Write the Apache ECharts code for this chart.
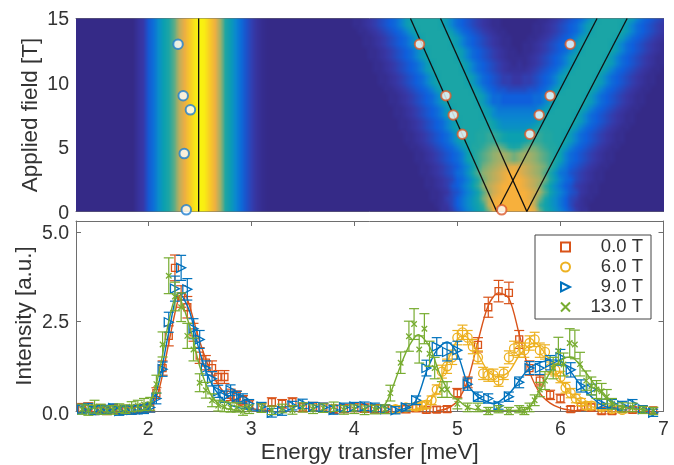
<!DOCTYPE html>
<html><head><meta charset="utf-8">
<style>html,body{margin:0;padding:0;background:#fff}#c{width:674px;height:465px;filter:blur(.4px)}</style>
<script src="https://cdn.jsdelivr.net/npm/echarts@6/dist/echarts.min.js"></script>
</head><body><div id="c"></div>
<script>
// ---------- tick labels ----------
const energyTicks=[2,3,4,5,6,7];
const fieldTicks=[0,5,10,15];
const intensityTicks=[0,2.5,5];
const seriesNames=['0.0 T','6.0 T','9.0 T','13.0 T'];
const seriesColors=['#d95319','#edb120','#0072bd','#77ac30'];
const colormap=['#352a87','#3838a8','#0f5fdc','#0a88d0','#0ba0b0','#25a89f','#8fb070','#d8ac50','#f7b03c','#f9d420','#f9f50f'];

// ---------- colour map: left band profile, energy 1.30 to 3.45 in 0.05 steps ----------
const bandProfile=[0,0,0,0,0,0,0,0,0,0,0,0,.06,.1,.18,.24,.32,.4,.47,.55,.66,.76,.86,.95,1,.97,.87,.77,.62,.48,.38,.3,.23,.17,.12,.07,.03,.01,0,0,0,0,0,0];
// V shaped part: energy 3.50 to 7.00 in 0.05 steps, one digit (base 36, /35) per cell; fields 15 T down to 0 T in 0.5 T steps
const vRows=[
"0000000000112345678adfgggggfda8765432110000000112345678adfgggggfda87654",
"0000000000112345678adfgggggfda876543211000000112345678adfgggggfda876543",
"00000000000112345678adfgggggfda87654321100000112345678adfgggggfda876543",
"000000000000112345678adfgggggfda876543211000112345678adfgggggfda8765432",
"000000000000112345678adfgggggfda87654321100112345678adfgggggfda87654321",
"0000000000000112345678adfgggggfda8765432110112345678adfgggggfda87654321",
"0000000000000112345678adfgggggfda876543211112345678adfgggggfda876543211",
"00000000000000112345678adfgggggfda87654321212345678adfgggggfda876543211",
"00000000000000112345678adfgggggfda8765432222345678adfgggggfda8765432110",
"000000000000000112345678adfgggggfda87654433445678adfgggggfda87654321100",
"000000000000000112345678adfgggggfda87654433445678adfgggggfda87654321100",
"0000000000000000112345678adfgggggfda876655556678adfgggggfda876543211000",
"00000000000000000112345678adfgggggfda8877777788adfgggggfda8765432110000",
"00000000000000000112345678adfgggggfda8877777788adfgggggfda8765432110000",
"000000000000000000112345678adfgggggfdb99999999bdfgggggfda87654321100000",
"000000000000000000112345678adfgggggfebaaaaaaabefgggggfda876543211000000",
"0000000000000000000112345678adfggggggecbbbbbbceggggggfda876543211000000",
"0000000000000000000112345678adfgggghgfdcccccdfghggggfda8765432110000000",
"00000000000000000000112345678adfgghhiihfeeefhiihhggfda87654321100000000",
"00000000000000000000112345678adfgghhiihfeeefhiihhggfda87654321100000000",
"000000000000000000000112345678adfhhijkkjhghjkkjihhfda876543211000000000",
"0000000000000000000000112345678aegijklmmlklmmlkjigea8765432110000000000",
"0000000000000000000000112345678aegijklmmlklmmlkjigea8765432110000000000",
"00000000000000000000000112345679bfiklmnopqponmlkifb97654321100000000000",
"00000000000000000000000112345689cgjlmnoqssqonmljgc986543211000000000000",
"00000000000000000000000011234578adhkmnoqsssqonmkhda87543211000000000000",
"00000000000000000000000011234679beilnoqssssqonlieb976432110000000000000",
"00000000000000000000000001123568acfjmoqsssssqomjfca86532110000000000000",
"00000000000000000000000001124579bdgknqssssssqnkgdb975421100000000000000",
"00000000000000000000000000123579bdfinssssssssnifdb975321000000000000000",
"00000000000000000000000000022468acegkqsssssssqkgeca86422000000000000000"
];
const gridEnergyStart=1.3, gridEnergyStep=0.05, gridFieldStep=0.5;

// ---------- fitted positions over the map ----------
const guideEnergyBottom=[2.49,5.382,5.674,5.382,5.674];
const guideEnergyTop=[2.49,4.545,4.837,6.355,6.647];
const circlesBlue=[[2.29,13],[2.34,9],[2.41,7.9],[2.35,4.5],[2.37,.13]];
const circlesRed=[[4.633,13],[4.889,9],[4.96,7.5],[5.048,6],[5.43,.13],[6.095,13],[5.9,9],[5.794,7.5],[5.703,6]];

// ---------- measured spectra ----------
const lowE=[1.36,1.42,1.48,1.54,1.6,1.66,1.72,1.78,1.84,1.9,1.96,2.02,2.08,2.14,2.2,2.26,2.32,2.38,2.44,2.5,2.56,2.62,2.68,2.74,2.8,2.86,2.92,2.98,3.1,3.2,3.3,3.4,3.5,3.6,3.7,3.8,3.9,4,4.1,4.2,4.3];
const stepE=[4.4,4.5,4.6,4.7,4.8,4.9,5,5.1,5.2,5.3,5.4,5.5,5.6,5.7,5.8,5.9,6,6.1,6.2,6.3,6.4,6.5,6.6,6.7,6.8,6.9];
const y0=[.08,.1,.03,.05,.02,.06,.02,.04,.03,.05,.07,.1,.5,1.2,2.1,4,3.2,2.9,2.2,1.55,1.35,1.2,.95,.95,.45,.42,.3,.18,.1,.25,.2,.25,.1,.12,.1,.05,.07,.1,.08,.06,.05,
 .05,.05,.08,.03,.04,.05,.5,.8,1.85,2.9,3.35,3.3,2,1.2,.85,.45,.35,.05,.12,.1,0,0,.05,.03,.05,.02];
const e0=[.13,.13,.13,.13,.12,.12,.12,.12,.12,.12,.12,.13,.15,.2,.28,.36,.3,.3,.25,.22,.2,.2,.18,.18,.16,.14,.13,.12,.12,.12,.12,.12,.12,.12,.12,.12,.12,.12,.12,.12,.12,
 .1,.1,.1,.08,.08,.08,.13,.15,.2,.28,.3,.3,.25,.2,.15,.13,.12,.08,.1,.1,.08,.08,.08,.08,.08,.08];
const e6x=[4.4,4.5,4.6,4.65,4.7,4.75,4.8,4.85,4.9,4.95,5,5.05,5.1,5.15,5.2,5.25,5.3,5.35,5.4,5.45,5.5,5.55,5.6,5.65,5.7,5.75,5.8,5.85,5.9,5.95,6,6.05,6.1,6.15,6.2,6.25,6.3,6.4,6.5,6.6];
const y6=[.05,.1,.12,.15,.18,.3,.6,1.1,1.25,1.5,2.05,2.2,2.05,1.8,1.5,1.05,1,1,.85,1.05,1.5,1.75,1.7,1.7,1.9,2,1.7,1.65,1.2,1.15,.95,.65,.5,.35,.25,.15,.15,.1,.05,.03];
const e6=[.1,.1,.1,.1,.1,.12,.13,.18,.2,.2,.2,.2,.2,.2,.18,.17,.17,.17,.16,.17,.18,.2,.2,.2,.2,.2,.2,.2,.17,.17,.16,.15,.13,.12,.1,.1,.1,.08,.08,.08];
const y9=[.05,.08,.02,.03,.04,.08,0,.03,.03,.04,.05,.1,.35,1.17,2.48,3.42,4,3.4,2.3,2,1.2,.9,.55,.4,.58,.4,.35,.2,.12,-.05,0,.15,.2,.12,.1,.03,.1,.12,.13,.1,.05,
 .02,.1,.3,1.2,1.8,1.65,1.7,.75,.4,.35,.15,.4,.8,1.2,1.2,1.35,1.5,1.15,.7,.6,.2,.2,.15,.2,.05,-.05];
const e9=[.13,.13,.12,.12,.12,.12,.12,.12,.12,.12,.12,.13,.15,.2,.28,.35,.35,.3,.28,.25,.2,.2,.17,.16,.15,.15,.13,.12,.12,.12,.12,.12,.13,.12,.12,.12,.12,.12,.12,.12,.12,
 .1,.1,.12,.22,.25,.25,.25,.17,.13,.13,.1,.13,.15,.18,.18,.2,.22,.2,.17,.15,.13,.12,.12,.12,.1,.1];
const e13x=[4.35,4.45,4.53,4.58,4.63,4.68,4.73,4.78,4.85,4.9,5,5.1,5.2,5.3,5.4,5.5,5.6,5.65,5.7,5.75,5.8,5.85,5.93,5.98,6.03,6.09,6.14,6.19,6.25,6.3,6.35,6.4,6.45,6.5,6.6,6.7,6.8,6.9];
const y13=[.05,.02,.12,.05,.02,.03,.08,.05,.12,.15,.18,.2,.75,1.86,3.78,3.2,2.9,2.1,1.72,.79,.58,.3,.15,.12,.1,.1,0,.05,.08,.02,.07,.03,.1,.05,.08,.12,.03,.05,.02,.04,.05,
 .5,1.35,2.09,2.43,1.72,2.3,1.6,1.2,.6,.6,.2,.1,.1,0,.05,0,.05,0,.1,.3,.6,.85,1.2,1.68,1.3,1.9,1.86,1.31,.85,.7,.6,.55,.4,.2,.1,.1,.03,0];
const e13=[.14,.14,.18,.14,.12,.12,.12,.12,.14,.15,.17,.18,.25,.35,.5,.4,.4,.35,.32,.25,.22,.18,.15,.14,.13,.13,.12,.12,.12,.12,.12,.12,.13,.12,.12,.13,.12,.12,.12,.12,.12,
 .22,.3,.42,.43,.38,.42,.35,.3,.22,.22,.14,.12,.12,.1,.1,.1,.1,.1,.12,.15,.2,.25,.3,.38,.32,.4,.4,.33,.27,.25,.25,.22,.2,.15,.13,.12,.1,.1];

// ---------- fitted curves ----------
const fit0E=[1.9,2,2.1,2.2,2.3,2.35,2.4,2.5,2.6,2.7,2.8,2.9,3,3.1,3.2,null,4.8,4.9,5,5.1,5.2,5.3,5.4,5.5,5.6,5.7,5.8,5.9,6,6.1,6.2];
const fit0Y=[0,.05,.55,1.9,3.2,3.3,2.95,1.95,1.15,.65,.32,.15,.07,.03,.01,null,.01,.07,.28,.85,1.95,2.95,3.3,3.15,2.15,1.1,.5,.22,.08,.02,0];
const fit6E=[4.5,4.6,4.7,4.8,4.9,5,5.05,5.1,5.2,5.3,5.4,5.5,5.6,5.7,5.75,5.8,5.9,6,6.1,6.2,6.3,6.4,6.5];
const fit6Y=[.02,.06,.18,.58,1.35,2,2.1,2.05,1.6,1.1,.95,1.1,1.55,1.85,1.9,1.8,1.4,.85,.48,.25,.12,.05,.02];
const fit9E=[1.9,2,2.1,2.2,2.3,2.4,2.5,2.6,2.7,2.8,2.9,3,3.1,null,4.4,4.5,4.6,4.7,4.8,4.9,5,5.1,5.2,5.3,5.35,5.5,5.6,5.7,5.8,5.9,6,6.1,6.2,6.3,6.4,6.5,6.6];
const fit9Y=[0,.05,.75,2.2,3.3,2.8,1.65,.85,.4,.17,.08,.03,.01,null,.02,.08,.3,1.1,1.7,1.93,1.6,.76,.39,.25,.2,.48,.85,1.2,1.35,1.43,1.4,1.1,.7,.4,.17,.07,.02];
const fit13E=[1.9,2,2.1,2.2,2.28,2.4,2.5,2.6,2.7,2.8,2.9,null,4.2,4.3,4.35,4.46,4.54,4.62,4.73,4.83,4.93,5.03,5.1,5.2,5.3,5.6,5.7,5.8,5.93,6.06,6.1,6.23,6.35,6.45,6.55,6.7,6.85];
const fit13Y=[0,.12,1,2.5,3.25,2.4,1.25,.5,.15,.04,.01,null,.01,.2,.49,1.35,1.86,2.13,1.8,1.03,.49,.25,.1,.03,.01,.02,.12,.58,1.2,1.5,1.51,1.13,.67,.35,.16,.07,.02];

// ---------- assembling ----------
const zipXY=(xs,ys)=>xs.map((x,i)=>[x,ys[i]]);
const fieldMap=[];
const colCount=bandProfile.length+vRows[0].length;
const mapCanvas=document.createElement('canvas');
mapCanvas.width=colCount;mapCanvas.height=vRows.length;
const mapCtx=mapCanvas.getContext('2d');
vRows.forEach((row,r)=>{
  const field=15-r*gridFieldStep;
  const vals=bandProfile.concat(row.split('').map(ch=>parseInt(ch,36)/35));
  vals.forEach((v,i)=>{
    fieldMap.push([gridEnergyStart+i*gridEnergyStep,field,v]);
    mapCtx.fillStyle=echarts.color.lerp(v,colormap);
    mapCtx.fillRect(i,r,1,1);
  });
});
const spectra=[
 {x:lowE.concat(stepE),y:y0,e:e0,fx:fit0E,fy:fit0Y,symbol:'rect',size:7},
 {x:e6x,y:y6,e:e6,fx:fit6E,fy:fit6Y,symbol:'circle',size:9},
 {x:lowE.concat(stepE),y:y9,e:e9,fx:fit9E,fy:fit9Y,symbol:'path://M0 0L10 5L0 10Z',size:9},
 {x:lowE.concat(e13x),y:y13,e:e13,fx:fit13E,fy:fit13Y,symbol:'path://M0 0L10 10M10 0L0 10',size:5.5}
];
const textColor='#333', frame='#6e6e6e', FONT='"Liberation Sans",Arial,sans-serif';
const chart=echarts.init(document.getElementById('c'),null,{renderer:'canvas'});
const G0=0,G1=1;
const base={min:1.3,max:7,type:'value',splitLine:{show:false}};
const lineStyle={color:frame,width:1};
const tickRich={
  a:{padding:[3,0,0,0],fontSize:19.5,fontFamily:FONT,color:textColor},
  b:{padding:[4,0,0,0],fontSize:19.5,fontFamily:FONT,color:textColor},
  c:{padding:[8,0,0,0],fontSize:19.5,fontFamily:FONT,color:textColor}
};
function xAx(grid,pos,labels){return Object.assign({},base,{gridIndex:grid,position:pos,
  axisLine:{show:true,onZero:false,lineStyle},
  axisTick:{show:grid===G1,inside:true,length:5,lineStyle,customValues:energyTicks},
  axisLabel:{show:labels,customValues:energyTicks,color:textColor,fontSize:19.5,fontFamily:FONT,margin:9,formatter:v=>String(v),hideOverlap:false,showMinLabel:true,showMaxLabel:true},
  name:labels?'Energy transfer [meV]':'',nameLocation:'middle',nameGap:31,nameMoveOverlap:false,
  nameTextStyle:{color:textColor,fontSize:22.4,fontFamily:FONT}});}
function yAx(grid,pos,labels,min,max,ticks,fmt,name,gap){return {type:'value',gridIndex:grid,position:pos,min,max,splitLine:{show:false},
  axisLine:{show:true,onZero:false,lineStyle},
  axisTick:{show:grid===G1,inside:true,length:5,lineStyle,customValues:ticks},
  axisLabel:{show:labels,customValues:ticks,color:textColor,fontSize:19.5,fontFamily:FONT,margin:7,formatter:fmt,rich:tickRich},
  name:labels?name:'',nameLocation:'middle',nameRotate:90,nameGap:gap,nameMoveOverlap:false,
  nameTextStyle:{color:textColor,fontSize:22.4,fontFamily:FONT}};}

const series=[];
series.push({type:'custom',name:'map',xAxisIndex:0,yAxisIndex:0,data:fieldMap,encode:{x:0,y:1},silent:true,animation:false,progressive:0,clip:true,z:1,
  renderItem(params,api){
    if(params.dataIndex!==0)return null;
    const a=api.coord([gridEnergyStart-gridEnergyStep/2,15+gridFieldStep/2]);
    const b=api.coord([gridEnergyStart+(colCount-0.5)*gridEnergyStep,-gridFieldStep/2]);
    return {type:'image',style:{image:mapCanvas,x:a[0],y:a[1],width:b[0]-a[0],height:b[1]-a[1]}};
  }});
guideEnergyBottom.forEach((e,i)=>series.push({type:'line',xAxisIndex:0,yAxisIndex:0,symbol:'none',silent:true,animation:false,z:5,
  data:[[e,0],[guideEnergyTop[i],15]],lineStyle:{color:'#111',width:1.3}}));
[[circlesBlue,'#1f7fd0'],[circlesRed,'#dc5a2a']].forEach(([d,c])=>series.push({type:'scatter',xAxisIndex:0,yAxisIndex:0,data:d,symbol:'circle',symbolSize:9.5,clip:false,silent:true,animation:false,z:6,
  itemStyle:{color:'#fff',borderColor:c,borderWidth:2}}));

spectra.forEach((s,i)=>{
  const c=seriesColors[i];
  series.push({type:'line',xAxisIndex:1,yAxisIndex:2,data:zipXY(s.fx,s.fy).map(p=>p[0]===null?[null,null]:p),symbol:'none',smooth:0.3,connectNulls:false,silent:true,animation:false,clip:false,lineStyle:{color:c,width:1.4},z:10+i});
  series.push({type:'custom',xAxisIndex:1,yAxisIndex:2,silent:true,animation:false,z:10+i,
    data:s.x.map((x,k)=>[x,s.y[k]-s.e[k],s.y[k]+s.e[k]]),encode:{x:0,y:[1,2]},
    renderItem(params,api){
      const lo=api.coord([api.value(0),api.value(1)]),hi=api.coord([api.value(0),api.value(2)]);
      const cap=5, style={stroke:c,lineWidth:1.2,fill:null};
      return {type:'group',children:[
        {type:'line',shape:{x1:lo[0],y1:lo[1],x2:hi[0],y2:hi[1]},style},
        {type:'line',shape:{x1:lo[0]-cap,y1:lo[1],x2:lo[0]+cap,y2:lo[1]},style},
        {type:'line',shape:{x1:hi[0]-cap,y1:hi[1],x2:hi[0]+cap,y2:hi[1]},style}]};
    }});
  series.push({type:'scatter',name:seriesNames[i],xAxisIndex:1,yAxisIndex:2,data:zipXY(s.x,s.y),symbol:s.symbol,symbolSize:s.size,clip:false,silent:true,animation:false,z:10+i,
    itemStyle:{color:'transparent',borderColor:c,borderWidth:1.3,opacity:1}});
});

chart.setOption({
  animation:false,
  backgroundColor:'#fff',
  grid:[{left:76,right:10.5,top:18.5,height:193},{left:76,right:10.5,top:221,height:193.5}],
  xAxis:[xAx(G0,'bottom',false),xAx(G1,'bottom',true),xAx(G0,'top',false),xAx(G1,'top',false)],
  yAxis:[
    yAx(G0,'left',true,0,15,fieldTicks,v=>(v===0?'{b|0}':'{a|'+v+'}'),'Applied field [T]',34),
    yAx(G0,'right',false,0,15,fieldTicks,v=>String(v),'',0),
    yAx(G1,'left',true,0,5.31,intensityTicks,v=>(v===0?'{c|0.0}':'{a|'+v.toFixed(1)+'}'),'Intensity [a.u.]',40),
    yAx(G1,'right',false,0,5.31,intensityTicks,v=>v.toFixed(1),'',0)],
  legend:{left:535,top:235,orient:'vertical',data:seriesNames,itemWidth:9,itemHeight:9,itemGap:0,padding:[2,8,2,25],
    backgroundColor:'#fff',borderColor:'#444',borderWidth:1,selectedMode:false,z:30,
    formatter:n=>'{a|'+n+'}',
    textStyle:{color:textColor,fontSize:18.5,fontFamily:FONT,rich:{a:{width:68,align:'right',fontSize:18.5,fontFamily:FONT,color:textColor,lineHeight:20,height:20}}}},
  series
});
</script></body></html>
